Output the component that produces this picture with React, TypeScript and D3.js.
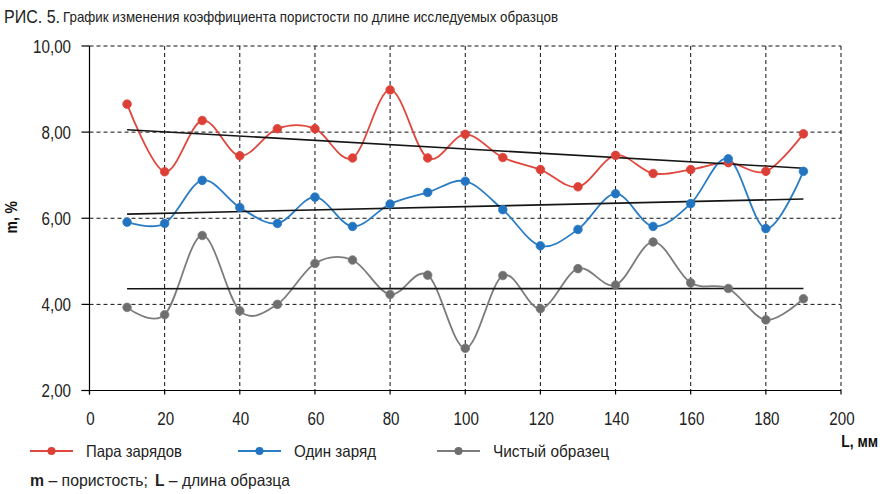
import React from "react";
import * as d3 from "d3";

const xValues = [10, 20, 30, 40, 50, 60, 70, 80, 90, 100, 110, 120, 130, 140, 150, 160, 170, 180, 190];
const paraZaryadov = [8.65, 7.08, 8.27, 7.45, 8.08, 8.08, 7.4, 8.98, 7.4, 7.95, 7.41, 7.13, 6.73, 7.46, 7.04, 7.13, 7.29, 7.09, 7.96];
const odinZaryad = [5.91, 5.88, 6.88, 6.25, 5.88, 6.49, 5.81, 6.33, 6.6, 6.86, 6.2, 5.36, 5.74, 6.57, 5.81, 6.34, 7.38, 5.76, 7.09];
const chistyObrazets = [3.93, 3.76, 5.6, 3.85, 4.0, 4.95, 5.03, 4.23, 4.68, 2.98, 4.67, 3.9, 4.83, 4.45, 5.45, 4.5, 4.37, 3.64, 4.13];

const xTicks = [0, 20, 40, 60, 80, 100, 120, 140, 160, 180, 200];
const yTicks = [2, 4, 6, 8, 10];

const seriesNames = ["Пара зарядов", "Один заряд", "Чистый образец"];
const seriesColors = ["#e0473d", "#2a7cc5", "#7c7c7c"];
const markerColors = ["#dc3f35", "#2274c0", "#6e6e6e"];
const seriesData = [paraZaryadov, odinZaryad, chistyObrazets];

const FONT = "'Liberation Sans', Arial, sans-serif";
const SX = 0.82;

function regression(xs: number[], ys: number[]) {
  const mx = d3.mean(xs) as number;
  const my = d3.mean(ys) as number;
  let num = 0, den = 0;
  xs.forEach((x, i) => { num += (x - mx) * (ys[i] - my); den += (x - mx) ** 2; });
  const b = num / den;
  const a = my - b * mx;
  return (x: number) => a + b * x;
}

function NText(props: { x: number; y: number; size: number; anchor?: string; weight?: string; children: React.ReactNode; fill?: string }) {
  return (
    <text
      transform={`translate(${props.x},${props.y}) scale(${SX},1)`}
      textAnchor={props.anchor || "start"}
      fontFamily={FONT}
      fontSize={props.size}
      fontWeight={props.weight || "normal"}
      fill={props.fill || "#222"}
    >
      {props.children}
    </text>
  );
}

export default function App() {
  const x = d3.scaleLinear().domain([0, 200]).range([89.5, 841]);
  const y = d3.scaleLinear().domain([2, 10]).range([390.5, 46]);

  const line = d3.line<number>()
    .x((_, i) => x(xValues[i]))
    .y((d) => y(d))
    .curve(d3.curveCardinal.tension(0));

  const xMin = d3.min(xValues) as number;
  const xMax = d3.max(xValues) as number;

  const legendX = [30, 238, 437];
  const legendW = [96, 82, 116];

  return (
    <svg width={882} height={494} style={{ position: "absolute", left: 0, top: 0, background: "#fff" }}>
      <rect x={0} y={0} width={882} height={494} fill="#fff" />
      {/* Title */}
      <text x={4} y={23} fontFamily={FONT} fill="#222" fontSize={19} textLength={56} lengthAdjust="spacingAndGlyphs">РИС. 5.</text>
      <text x={63} y={22} fontFamily={FONT} fill="#222" fontSize={14.5} textLength={495} lengthAdjust="spacingAndGlyphs">
        График изменения коэффициента пористости по длине исследуемых образцов
      </text>

      {/* Grid */}
      {yTicks.filter((t) => t !== 2).map((t) => (
        <line key={"gy" + t} x1={x(0)} x2={x(200)} y1={y(t)} y2={y(t)} stroke="#111" strokeWidth={1} strokeDasharray="4,3" />
      ))}
      {xTicks.filter((t) => t !== 0).map((t) => (
        <line key={"gx" + t} x1={x(t)} x2={x(t)} y1={y(10)} y2={y(2)} stroke="#111" strokeWidth={1} strokeDasharray="4,3" />
      ))}

      {/* Axes */}
      <line x1={x(0)} x2={x(0)} y1={y(10)} y2={y(2) + 4} stroke="#000" strokeWidth={1.2} />
      <line x1={x(0) - 8} x2={x(200)} y1={y(2)} y2={y(2)} stroke="#000" strokeWidth={1.2} />
      {yTicks.map((t) => (
        <g key={"yt" + t}>
          <line x1={x(0) - 8} x2={x(0)} y1={y(t)} y2={y(t)} stroke="#000" strokeWidth={1.2} />
          <NText x={71} y={y(t) + 6.5} size={18.5} anchor="end">
            {d3.format(".2f")(t).replace(".", ",")}
          </NText>
        </g>
      ))}
      {xTicks.map((t) => (
        <g key={"xt" + t}>
          <line x1={x(t)} x2={x(t)} y1={y(2)} y2={y(2) + 4} stroke="#000" strokeWidth={1.2} />
          <NText x={x(t) + 1} y={y(2) + 34} size={18.5} anchor="middle">{t}</NText>
        </g>
      ))}

      {/* Axis titles */}
      <text transform={`translate(17,${y(6) - 1}) rotate(-90) scale(${SX},1)`} textAnchor="middle" fontFamily={FONT} fontWeight="bold" fontSize={17} fill="#111">m, %</text>
      <NText x={878} y={447} size={17} anchor="end" weight="bold" fill="#111">L, мм</NText>

      {/* Series */}
      {seriesData.map((data, si) => (
        <path key={"s" + si} d={line(data) as string} fill="none" stroke={seriesColors[si]} strokeWidth={1.8} />
      ))}
      {/* Trend lines */}
      {seriesData.map((data, si) => {
        const f = regression(xValues, data);
        return (
          <line key={"tr" + si} x1={x(xMin)} x2={x(xMax)} y1={y(f(xMin))} y2={y(f(xMax))} stroke="#151515" strokeWidth={1.6} />
        );
      })}
      {seriesData.map((data, si) => (
        <g key={"m" + si}>
          {data.map((v, i) => (
            <circle key={i} cx={x(xValues[i])} cy={y(v)} r={4.3} fill={markerColors[si]} stroke={seriesColors[si]} strokeWidth={0.8} />
          ))}
        </g>
      ))}

      {/* Legend */}
      {seriesNames.map((name, i) => (
        <g key={"lg" + i}>
          <line x1={legendX[i]} x2={legendX[i] + 43} y1={451} y2={451} stroke={seriesColors[i]} strokeWidth={1.8} />
          <circle cx={legendX[i] + 21.5} cy={451} r={4} fill={markerColors[i]} />
          <text x={legendX[i] + 56} y={457} fontFamily={FONT} fontSize={16.5} fill="#222" textLength={legendW[i]} lengthAdjust="spacingAndGlyphs">{name}</text>
        </g>
      ))}

      {/* Footnote */}
      <text x={30} y={486} fontFamily={FONT} fontSize={16.5} fill="#222" textLength={118} lengthAdjust="spacingAndGlyphs">
        <tspan fontWeight="bold">m</tspan>
        <tspan> – пористость;</tspan>
      </text>
      <text x={155} y={486} fontFamily={FONT} fontSize={16.5} fill="#222" textLength={135} lengthAdjust="spacingAndGlyphs">
        <tspan fontWeight="bold">L</tspan>
        <tspan> – длина образца</tspan>
      </text>
    </svg>
  );
}
